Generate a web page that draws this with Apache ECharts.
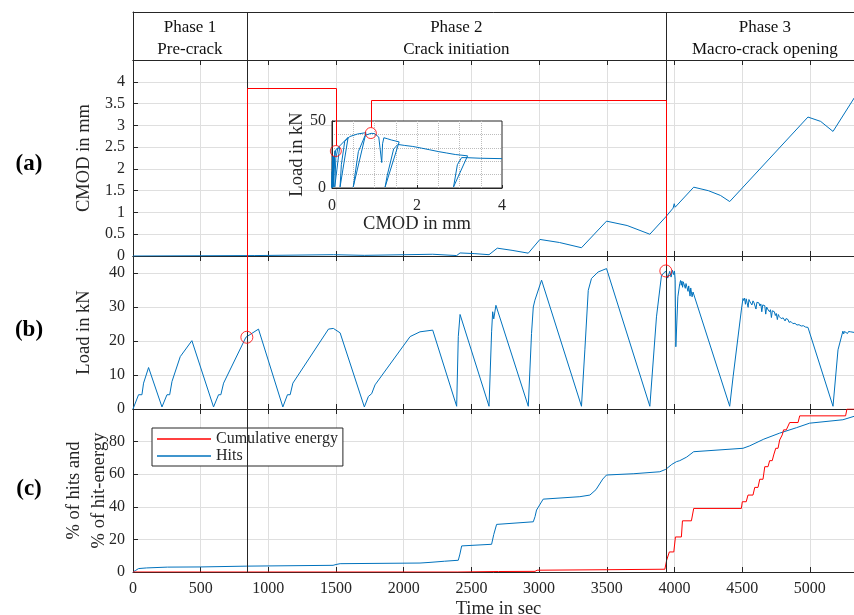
<!DOCTYPE html>
<html><head><meta charset="utf-8">
<script src="https://cdn.jsdelivr.net/npm/echarts@6/dist/echarts.min.js"></script>
<style>html,body{margin:0;padding:0;background:#fff}#c{width:854px;height:615px}</style>
</head><body><div id="c"></div>
<script>
// ---------------- data ----------------
const XMAX = 5400;
const phaseBounds = [841, 3936];
const phaseNames = ['Phase 1', 'Phase 2', 'Phase 3'];
const phaseDescs = ['Pre-crack', 'Crack initiation', 'Macro-crack opening'];
const panelLetters = ['a', 'b', 'c'];

const cmodTime = [0, 900, 1480, 1709, 2120, 2214, 2391, 2416, 2520, 2630, 2691, 2800, 2920, 3006, 3150, 3313, 3498, 3650, 3818, 3936, 3990, 3998, 4005, 4142, 4250, 4340, 4408, 4986, 5080, 5171, 5330];
const cmodVal  = [0, 0.01, 0.03, 0.015, 0.035, 0.04, 0.01, 0.07, 0.055, 0.03, 0.18, 0.13, 0.065, 0.38, 0.31, 0.19, 0.8, 0.7, 0.5, 0.9, 1.1, 1.2, 1.12, 1.58, 1.5, 1.39, 1.25, 3.19, 3.09, 2.86, 3.64];

const loadTime = [0,41,66,78,115,214,251,271,288,349,
  435,595,632,649,669,834,927,1107,1141,1161,
  1181,1444,1480,1530,1709,1739,1763,1788,2047,2120,
  2214,2391,2403,2416,2630,2649,2657,2665,2681,2920,
  2944,2957,2969,3018,3313,3338,3363,3387,3436,3498,
  3818,3867,3904,3936,3950,3965,3975,3985,3995,4000,
  4005,4010,4025,4039,4045,4050,4055,4060,4065,4070,
  4075,4080,4085,4090,4095,4100,4105,4110,4115,4120,
  4125,4130,4137,4408,4433,4494,4506,4512,4518,4524,
  4530,4537,4544,4550,4558,4565,4572,4580,4588,4595,
  4602,4609,4617,4624,4631,4638,4645,4652,4660,4667,
  4674,4681,4688,4695,4702,4709,4716,4723,4730,4738,
  4745,4752,4760,4767,4774,4781,4788,4795,4803,4810,
  4817,4824,4832,4839,4846,4853,4861,4868,4875,4882,
  4890,4897,4905,4912,4920,4928,4936,4944,4952,4960,
  4968,4976,4986,5171,5208,5244,5250,5256,5262,5270,
  5278,5286,5294,5302,5310,5330];
const loadVal = [0,4.2,4.2,7.6,12.2,0.6,4.2,4.2,8.1,15.4,
  20.1,0.6,4.2,4.2,7.6,21.1,23.5,0.6,4.2,4.2,
  7.6,23.5,23.7,22.4,0.6,3.7,4.5,7.1,21.3,22.7,
  23.2,0.8,21.3,27.8,0.8,22.7,28.6,26.5,30.5,0.8,
  22.2,30.0,32.0,37.9,0.8,17.4,34.9,38.4,40.3,41.3,
  0.8,27.1,39.3,40.6,38.5,40.5,38.8,40.8,39.5,40.6,
  38.0,18.3,33.0,36.9,37.8,36.4,37.6,35.8,37.4,36.9,
  37.2,35.5,36.9,36.4,36.6,34.6,36.2,35.8,33.2,35.6,
  35.2,33.0,34.4,0.8,9.5,29.1,32.5,31.9,32.6,30.8,
  32.4,32.1,29.9,32.2,31.5,32.0,30.6,31.8,31.2,31.6,
  29.4,31.4,30.9,31.2,30.3,30.9,28.6,30.6,30.1,30.4,
  27.9,30.0,29.4,29.7,28.6,29.2,26.9,28.9,28.4,28.6,
  27.5,28.1,26.3,27.8,27.2,27.5,26.6,27.1,26.8,26.9,
  25.9,26.6,26.2,26.3,25.5,26.0,25.7,25.8,25.1,25.5,
  25.2,25.3,24.7,25.0,24.8,24.9,24.4,24.7,24.5,24.5,
  24.1,24.3,24.0,0.8,17.4,22.9,22.1,22.8,22.3,22.7,
  22.2,22.8,22.4,22.7,22.3,22.5];

const hitsTime = [0,20,41,100,254,497,841,1478,1500,1530,2120,2194,2300,2403,2415,2428,2649,2665,2686,2957,2970,2981,3030,3301,3375,3420,3470,3498,3700,3892,3936,3980,4015,4039,4090,4142,4506,4556,4660,4777,4900,4998,5244,5330];
const hitsVal  = [0,1.0,2.1,2.5,3.0,3.1,3.6,4.1,4.6,5.1,5.5,5.9,6.6,7.2,11,16.0,17.0,23,29.2,30.8,34,38,44.7,46.2,47.2,50.5,57,59.5,60.3,61.5,63.0,66.0,67.7,68.3,70.5,73.8,75.9,77.4,81.5,85.2,88.5,91.3,93.4,95.6];

const energyTime = [0,2400,2700,2970,2985,3500,3929,3942,3950,3962,3995,4007,4051,4059,4125,4142,4494,4501,4530,4543,4580,4593,4617,4630,4654,4667,4691,4703,4722,4733,4742,4748,4765,4777,4790,4796,4802,4806,4826,4851,4913,4925,5264,5274,5400];
const energyVal  = [0,0,0.3,0.4,1.1,1.4,1.7,7.2,7.2,12.3,12.3,21.5,21.5,31.4,31.4,39.0,39.0,43.1,43.1,47.2,47.2,51.9,51.9,56.9,56.9,64.6,64.6,68.3,68.3,71.8,71.8,75.9,75.9,81.0,81.0,84.1,84.1,87.2,87.2,91.7,91.7,95.8,95.8,100,100];

const insetCmod = [0,0.005,0.002,0.01,0.006,0.015,0.01,0.03,0.015,0.04,0.01,0.07,0.03,0.06,0.09,0.18,0.065,0.09,0.14,0.2,0.38,0.19,0.22,0.3,0.42,0.6,0.8,0.5,0.62,0.78,0.92,1.0,1.1,1.17,1.19,1.22,1.3,1.4,1.58,1.25,1.3,1.45,1.55,1.7,1.9,2.1,2.3,2.5,2.7,2.9,3.19,2.86,2.95,3.05,3.2,3.5,4.0];
const insetLoad = [0,12.2,0.6,20.1,0.6,23.5,0.6,23.7,0.6,23.2,0.8,27.8,0.8,22.7,28.6,30.5,0.8,22.2,30,32,37.9,0.8,17.4,34.9,38.4,40.3,41.3,0.8,27.1,39.3,40.8,40.6,38,19,33,37.5,36.8,35.8,34.4,0.8,9.5,29.1,32.5,31.8,31.0,29.8,28.5,27.2,26.1,25.0,24.0,0.8,17.4,22.7,22.6,22.2,21.9];

// highlighted points: main-plot time/load, link height in CMOD, inset CMOD/load
const markTimes = [841, 3936];
const markLoads = [21.1, 40.6];
const linkCmod = [3.86, 3.59];
const insetMarkCmod = [0.09, 0.914];
const insetMarkLoad = [27.6, 41.0];

// ---------------- style ----------------
const FONT = 'Liberation Serif';
const AX = '#262626';
const GRIDC = '#dfdfdf';
const BLUE = '#0072BD';
const RED = '#ff0000';
const zip = (a, b) => a.slice(0, Math.min(a.length, b.length)).map((v, i) => [v, b[i]]);

const G = { left: 133, width: 731 };
const grids = [
  { left: G.left, width: G.width, top: 12, height: 48 },
  { left: G.left, width: G.width, top: 60, height: 196 },
  { left: G.left, width: G.width, top: 256, height: 153 },
  { left: G.left, width: G.width, top: 409, height: 163 },
  { left: 332, width: 170, top: 121, height: 67, show: true, backgroundColor: '#fff', borderColor: AX, borderWidth: 1, z: 3 }
].map(g => Object.assign({ outerBoundsMode: 'none', containLabel: false }, g));

const lbl = (extra) => Object.assign({ fontFamily: FONT, fontSize: 16, color: AX }, extra || {});
function mainX(gi, pos, opts) {
  return Object.assign({
    type: 'value', gridIndex: gi, min: 0, max: XMAX, interval: 500, position: pos,
    axisLine: { show: true, onZero: false, lineStyle: { color: AX, width: 1 } },
    axisTick: { show: true, inside: true, length: 5, lineStyle: { color: AX } },
    axisLabel: { show: false },
    splitLine: { show: pos === 'bottom', showMinLine: false, showMaxLine: false, lineStyle: { color: GRIDC, width: 1 } }
  }, opts || {});
}
const xAxes = [
  mainX(0, 'bottom', { axisTick: { show: false }, splitLine: { show: false } }),
  mainX(0, 'top', { axisTick: { show: false } }),
  mainX(1, 'bottom'), mainX(1, 'top'),
  mainX(2, 'bottom'), mainX(2, 'top'),
  mainX(3, 'bottom', {
    axisLabel: lbl({ show: true, margin: 9, formatter: v => (v > 5000 ? '' : String(v)) }),
    name: 'Time in sec', nameLocation: 'middle', nameGap: 28, nameMoveOverlap: false,
    nameTextStyle: { fontFamily: FONT, fontSize: 18.5, color: AX }
  }),
  mainX(3, 'top'),
  {
    type: 'value', gridIndex: 4, min: 0, max: 4, interval: 2, z: 4,
    axisLine: { show: true, lineStyle: { color: AX } },
    axisTick: { show: true, inside: true, length: 3, lineStyle: { color: AX } },
    axisLabel: lbl({ margin: 10 }),
    minorTick: { show: false, splitNumber: 4 },
    splitLine: { show: true, showMinLine: false, showMaxLine: false, lineStyle: { color: '#bdbdbd', type: 'dotted' } },
    minorSplitLine: { show: true, lineStyle: { color: '#bdbdbd', type: 'dotted' } },
    name: 'CMOD in mm', nameLocation: 'middle', nameGap: 27, nameMoveOverlap: false,
    nameTextStyle: { fontFamily: FONT, fontSize: 18.5, color: AX }
  }
];
function mainY(gi, max, interval, name, gap, fmtMax, extra) {
  return Object.assign({
    type: 'value', gridIndex: gi, min: 0, max: max, interval: interval,
    axisLine: { show: true, onZero: false, lineStyle: { color: AX } },
    axisTick: { show: true, inside: true, length: 5, lineStyle: { color: AX } },
    axisLabel: lbl({ margin: 8, formatter: v => (v > fmtMax + 1e-9 ? '' : String(v)) }),
    splitLine: { show: true, showMinLine: false, showMaxLine: false, lineStyle: { color: GRIDC } },
    name: name, nameLocation: 'middle', nameGap: gap, nameMoveOverlap: false,
    nameTextStyle: { fontFamily: FONT, fontSize: 18.5, color: AX, lineHeight: 25 }
  }, extra || {});
}
const yAxes = [
  { type: 'value', gridIndex: 0, min: 0, max: 1, axisLine: { show: true, lineStyle: { color: AX } }, axisTick: { show: false }, axisLabel: { show: false }, splitLine: { show: false } },
  mainY(1, 4.5, 0.5, 'CMOD in mm', 36, 4),
  mainY(2, 45, 10, 'Load in kN', 36, 40),
  mainY(3, 100, 20, '% of hits and\n% of hit-energy', 21, 80),
  {
    type: 'value', gridIndex: 4, min: 0, max: 50, interval: 50, z: 4,
    axisLine: { show: true, lineStyle: { color: AX } },
    axisTick: { show: true, inside: true, length: 3, lineStyle: { color: AX } },
    axisLabel: lbl({ margin: 6 }),
    minorTick: { show: false, splitNumber: 5 },
    splitLine: { show: false },
    minorSplitLine: { show: true, lineStyle: { color: '#bdbdbd', type: 'dotted' } },
    name: 'Load in kN', nameLocation: 'middle', nameGap: 25, nameMoveOverlap: false,
    nameTextStyle: { fontFamily: FONT, fontSize: 18.5, color: AX }
  }
];

const phaseMarkLine = {
  silent: true, symbol: ['none', 'none'], animation: false,
  label: { show: false },
  lineStyle: { color: AX, width: 1, type: 'solid' },
  data: phaseBounds.map(b => ({ xAxis: b }))
};
const edges = [0].concat(phaseBounds, [XMAX]);
const centers = phaseNames.map((n, i) => (edges[i] + edges[i + 1]) / 2);

const series = [
  { type: 'line', xAxisIndex: 0, yAxisIndex: 0, data: [], showSymbol: false, markLine: phaseMarkLine },
  { type: 'line', xAxisIndex: 2, yAxisIndex: 1, data: zip(cmodTime, cmodVal), showSymbol: false, color: BLUE, lineStyle: { width: 1, color: BLUE }, markLine: phaseMarkLine },
  { type: 'line', xAxisIndex: 4, yAxisIndex: 2, data: zip(loadTime, loadVal), showSymbol: false, color: BLUE, lineStyle: { width: 1, color: BLUE }, markLine: phaseMarkLine },
  { type: 'scatter', xAxisIndex: 4, yAxisIndex: 2, data: zip(markTimes, markLoads), symbolSize: 12, z: 6, itemStyle: { color: 'rgba(0,0,0,0)', borderColor: RED, borderWidth: 1 } },
  { name: 'Hits', type: 'line', xAxisIndex: 6, yAxisIndex: 3, data: zip(hitsTime, hitsVal), showSymbol: false, color: BLUE, lineStyle: { width: 1, color: BLUE }, markLine: phaseMarkLine },
  { name: 'Cumulative energy', type: 'line', xAxisIndex: 6, yAxisIndex: 3, data: zip(energyTime, energyVal), showSymbol: false, color: RED, lineStyle: { width: 1, color: RED } },
  { type: 'line', xAxisIndex: 8, yAxisIndex: 4, data: zip(insetCmod, insetLoad), showSymbol: false, z: 5, color: BLUE, lineStyle: { width: 1, color: BLUE } },
  { type: 'scatter', xAxisIndex: 8, yAxisIndex: 4, data: zip(insetMarkCmod, insetMarkLoad), symbolSize: 11, z: 6, itemStyle: { color: 'rgba(0,0,0,0)', borderColor: RED, borderWidth: 1 } }
];
const S_CMOD = 1, S_LOAD = 2, S_INSET = 6;

const option = {
  animation: false,
  backgroundColor: '#fff',
  grid: grids,
  xAxis: xAxes,
  yAxis: yAxes,
  legend: {
    data: ['Cumulative energy', 'Hits'], orient: 'vertical', left: 152, top: 428,
    icon: 'rect', itemWidth: 54, itemHeight: 1.5, itemGap: 1, padding: [3, 5, 2, 5],
    borderColor: AX, borderWidth: 1, borderRadius: 0, backgroundColor: '#fff', selectedMode: false,
    textStyle: { fontFamily: FONT, fontSize: 16, color: AX }
  },
  series: series
};

const chart = echarts.init(document.getElementById('c'));
chart.setOption(option);

const R = 5.5;
const px = v => Math.round(v) + 0.5;
const graphics = markTimes.map((t, i) => {
  const pb = chart.convertToPixel({ seriesIndex: S_LOAD }, [t, markLoads[i]]);
  const pa = chart.convertToPixel({ seriesIndex: S_CMOD }, [t, linkCmod[i]]);
  const pi = chart.convertToPixel({ seriesIndex: S_INSET }, [insetMarkCmod[i], insetMarkLoad[i]]);
  return {
    type: 'polyline', z: 100, silent: true,
    shape: { points: [[px(pb[0]), pb[1] - R], [px(pb[0]), px(pa[1])], [px(pi[0]), px(pa[1])], [px(pi[0]), pi[1] - R]] },
    style: { stroke: RED, lineWidth: 1, fill: 'none' }
  };
});
// header phase texts
const yLine1 = chart.convertToPixel({ yAxisIndex: 0 }, 0.68);
const yLine2 = chart.convertToPixel({ yAxisIndex: 0 }, 0.22);
centers.forEach((c, i) => {
  const x = chart.convertToPixel({ xAxisIndex: 0 }, c);
  [[phaseNames[i], yLine1], [phaseDescs[i], yLine2]].forEach(([txt, y]) => {
    graphics.push({
      type: 'text', x: x, y: y, z: 100, silent: true,
      style: { text: txt, fontFamily: FONT, fontSize: 17, fill: '#111', align: 'center', verticalAlign: 'middle' }
    });
  });
});
const letterY = [164, 330, 489];
panelLetters.forEach((l, i) => {
  graphics.push({
    type: 'text', x: 29, y: letterY[i], z: 100, silent: true,
    style: { text: '(' + l + ')', fontFamily: FONT, fontSize: 23, fontWeight: 'bold', fill: '#000', align: 'center', verticalAlign: 'middle' }
  });
});
chart.setOption({ graphic: graphics });
</script>
</body></html>
